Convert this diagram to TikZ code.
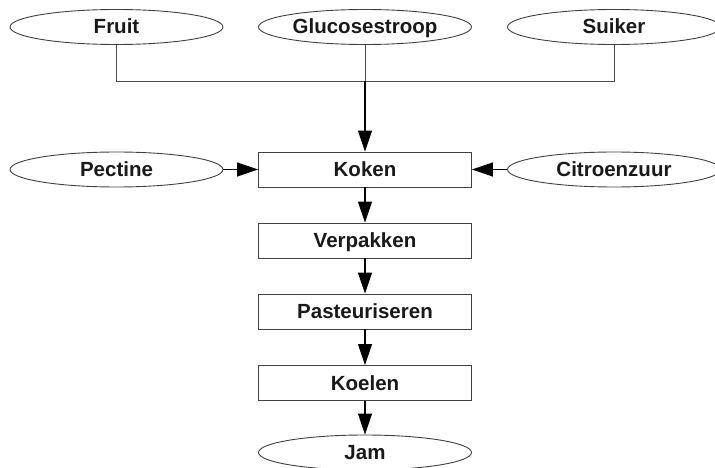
\documentclass[tikz,border=0pt]{standalone}
\usepackage{fontspec}
\setmainfont{Liberation Sans}
\usetikzlibrary{arrows.meta,shapes.geometric}
\begin{document}
\begin{tikzpicture}[x=1pt,y=-1pt,
  every node/.style={font=\fontsize{20.5}{23}\selectfont\bfseries, text=black!90, inner sep=0pt,
    text height=14.5pt, text depth=0.5pt},
  ingredient/.style={draw=black!75, line width=0.9pt, ellipse, minimum width=213pt, minimum height=35pt},
  stepbox/.style={draw=black!75, line width=0.9pt, rectangle, minimum width=213pt, minimum height=35pt},
  feed/.style={draw=black!70, line width=0.9pt},
  flow/.style={draw=black, line width=1.2pt, -{Triangle[length=21pt,width=14pt]}}
]
\useasboundingbox (0,0) rectangle (715,468);

% raw materials
\node[ingredient] (fruit) at (116.5,27) {Fruit};
\node[ingredient] (gluc) at (365,27) {Glucosestroop};
\node[ingredient] (suiker) at (614,27) {Suiker};
\node[ingredient] (pectine) at (116.5,169.5) {Pectine};
\node[ingredient] (citroen) at (614,169.5) {Citroenzuur};

% process steps
\node[stepbox] (koken) at (365,169.5) {Koken};
\node[stepbox] (verpakken) at (365,240.5) {Verpakken};
\node[stepbox] (pasteur) at (365,311.5) {Pasteuriseren};
\node[stepbox] (koelen) at (365,383) {Koelen};
\node[ingredient] (jam) at (365,452.5) {Jam};

% merge of the top row
\coordinate (merge) at (365,81);
\draw[feed] (fruit.south) |- (merge);
\draw[feed] (suiker.south) |- (merge);
\draw[feed] (gluc.south) -- (merge);
\draw[flow] (merge) -- (koken.north);

% side inputs
\draw[flow] (pectine.east) -- (koken.west);
\draw[flow] (citroen.west) -- (koken.east);

% main chain
\draw[flow] (koken) -- (verpakken);
\draw[flow] (verpakken) -- (pasteur);
\draw[flow] (pasteur) -- (koelen);
\draw[flow] (koelen) -- (jam);
\end{tikzpicture}
\end{document}
